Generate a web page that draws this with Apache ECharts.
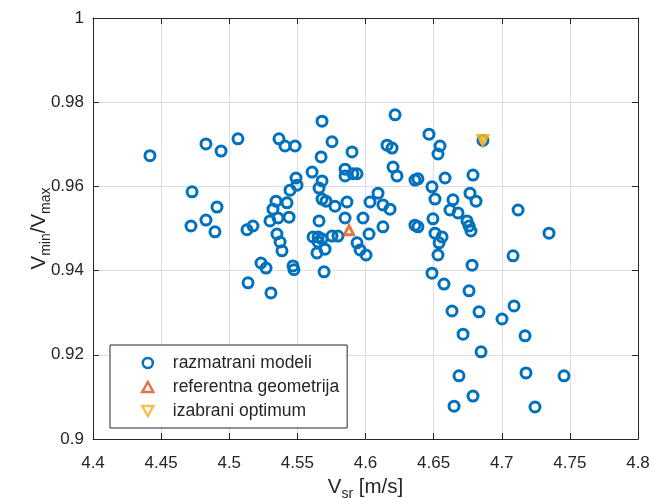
<!DOCTYPE html>
<html>
<head>
<meta charset="utf-8">
<script src="https://cdn.jsdelivr.net/npm/echarts@6/dist/echarts.min.js"></script>
<style>
html,body{margin:0;padding:0;background:#fff;}
#chart{width:653px;height:498px;}
</style>
</head>
<body>
<div id="chart"></div>
<script>
// ---- data ----
const modelVsr = [4.4418,4.4829,4.4940,4.5064,4.5365,4.5409,4.5483,4.5681,4.5754,4.5674,4.5901,4.5608,4.5681,4.5659,4.5490,4.5497,4.5446,4.5850,4.5850,4.5908,4.5938,4.5681,4.5710,4.5776,4.5864,4.4727,4.4910,4.5343,4.5321,4.5424,4.5439,4.5358,4.5299,4.4719,4.4829,4.4895,4.5130,4.5174,4.5350,4.5373,4.5387,4.5233,4.5270,4.5138,4.5306,4.5468,4.5475,4.5659,4.5850,4.5615,4.5652,4.5681,4.5652,4.5644,4.5703,4.5754,4.5798,4.5696,4.5938,4.5960,4.6004,4.5982,4.6033,4.6128,4.6026,4.6128,4.6092,4.6217,4.6158,4.6195,4.6466,4.6547,4.6532,4.6202,4.6231,4.6363,4.6385,4.6584,4.6789,4.6488,4.6510,4.6767,4.6811,4.6642,4.6620,4.6679,4.6180,4.6363,4.6385,4.6495,4.6745,4.6760,4.6774,4.7120,4.7347,4.6510,4.6562,4.6540,4.6532,4.7083,4.6782,4.6488,4.6576,4.6760,4.6635,4.6833,4.7002,4.7090,4.6716,4.7171,4.6848,4.6686,4.7178,4.7457,4.6789,4.6650,4.7244,4.6862];
const modelRatio = [0.9673,0.9701,0.9684,0.9713,0.9713,0.9696,0.9696,0.9755,0.9706,0.9670,0.9682,0.9634,0.9613,0.9596,0.9620,0.9603,0.9591,0.9641,0.9625,0.9630,0.9630,0.9570,0.9565,0.9553,0.9563,0.9587,0.9551,0.9565,0.9546,0.9561,0.9527,0.9525,0.9518,0.9506,0.9520,0.9492,0.9497,0.9506,0.9487,0.9468,0.9447,0.9418,0.9406,0.9371,0.9347,0.9411,0.9402,0.9518,0.9525,0.9480,0.9480,0.9475,0.9468,0.9442,0.9451,0.9482,0.9482,0.9397,0.9466,0.9449,0.9437,0.9525,0.9563,0.9556,0.9487,0.9504,0.9584,0.9770,0.9698,0.9691,0.9724,0.9696,0.9677,0.9646,0.9625,0.9615,0.9618,0.9620,0.9627,0.9599,0.9570,0.9584,0.9565,0.9568,0.9544,0.9537,0.9546,0.9508,0.9504,0.9523,0.9518,0.9506,0.9494,0.9544,0.9489,0.9489,0.9480,0.9466,0.9437,0.9435,0.9413,0.9394,0.9368,0.9352,0.9304,0.9302,0.9285,0.9316,0.9249,0.9245,0.9207,0.9150,0.9157,0.9150,0.9102,0.9078,0.9076,0.9709];
const refVsr = [4.5879];
const refRatio = [0.9496];
const optVsr = [4.6862];
const optRatio = [0.9709];
const seriesNames = ['razmatrani modeli','referentna geometrija','izabrani optimum'];
const xTicks = {min:4.4, max:4.8, interval:0.05};
const yTicks = {min:0.9, max:1.0, interval:0.02};

// ---- chart ----
const BLUE = '#0072BD', ORANGE = '#D95319', YELLOW = '#EDB120';
const AX = '#262626';
const FONT = 'Liberation Sans, Arial, sans-serif';
const zip = (a,b) => a.map((v,i)=>[v,b[i]]);
const downTri = 'path://M0,0 L10,0 L5,9 Z';
const upTri = 'path://M5,0 L10,9 L0,9 Z';

const chart = echarts.init(document.getElementById('chart'), null, {renderer:'canvas'});
const baseAxis = {
  axisLine:{show:true, onZero:false, lineStyle:{color:AX, width:1}},
  axisTick:{show:true, inside:true, length:6, lineStyle:{color:AX}},
};
const nameRich = {
  m:{fontFamily:FONT, fontSize:20.5, color:AX, lineHeight:28, verticalAlign:'middle'},
  s:{fontFamily:FONT, fontSize:14, color:AX, lineHeight:14, verticalAlign:'bottom'}
};
chart.setOption({
  animation:false,
  backgroundColor:'#fff',
  grid:{left:93, top:18, right:15, bottom:59, containLabel:false, outerBoundsMode:'none'},
  xAxis:[
    Object.assign({}, baseAxis, {
      type:'value', min:xTicks.min, max:xTicks.max, interval:xTicks.interval, position:'bottom',
      axisLabel:{color:AX, fontFamily:FONT, fontSize:17, margin:16,
        formatter:v => String(parseFloat(v.toFixed(2)))},
      splitLine:{show:true, lineStyle:{color:'#dedede', width:1}},
      name:'{m|V}{s|sr}{m| [m/s]}', nameLocation:'middle', nameGap:32,
      nameTextStyle:{rich:nameRich}
    }),
    Object.assign({}, baseAxis, {
      type:'value', min:xTicks.min, max:xTicks.max, interval:xTicks.interval, position:'top',
      axisLabel:{show:false}, splitLine:{show:false}
    })
  ],
  yAxis:[
    Object.assign({}, baseAxis, {
      type:'value', min:yTicks.min, max:yTicks.max, interval:yTicks.interval, position:'left',
      axisLabel:{color:AX, fontFamily:FONT, fontSize:17, margin:9,
        formatter:v => String(parseFloat(v.toFixed(2)))},
      splitLine:{show:true, lineStyle:{color:'#dedede', width:1}},
      name:'{m|V}{s|min}{m|/V}{s|max}', nameLocation:'middle', nameGap:40, nameRotate:90,
      nameMoveOverlap:false,
      nameTextStyle:{rich:nameRich}
    }),
    Object.assign({}, baseAxis, {
      type:'value', min:yTicks.min, max:yTicks.max, interval:yTicks.interval, position:'right',
      axisLabel:{show:false}, splitLine:{show:false}
    })
  ],
  legend:{
    orient:'vertical', left:110, top:345,
    padding:[9,8,8,31], itemGap:6,
    itemWidth:40, itemHeight:10,
    backgroundColor:'#fff', borderColor:AX, borderWidth:1,
    textStyle:{fontFamily:FONT, fontSize:17.5, color:AX},
    data:[
      {name:seriesNames[0], icon:'circle', itemStyle:{color:'#fff', borderColor:BLUE, borderWidth:2.5}},
      {name:seriesNames[1], icon:upTri, itemStyle:{color:'#fff', borderColor:ORANGE, borderWidth:2.5}},
      {name:seriesNames[2], icon:downTri, itemStyle:{color:'#fff', borderColor:YELLOW, borderWidth:2.5}}
    ]
  },
  series:[
    {name:seriesNames[0], type:'scatter', data:zip(modelVsr, modelRatio), symbol:'circle', symbolSize:10,
     itemStyle:{color:'rgba(255,255,255,0)', borderColor:BLUE, borderWidth:3, opacity:1},
     emphasis:{disabled:true}},
    {name:seriesNames[1], type:'scatter', data:zip(refVsr, refRatio), symbol:upTri, symbolSize:9,
     itemStyle:{color:'#fff', borderColor:ORANGE, borderWidth:3},
     emphasis:{disabled:true}},
    {name:seriesNames[2], type:'scatter', data:zip(optVsr, optRatio), symbol:downTri, symbolSize:10,
     itemStyle:{color:YELLOW, borderColor:YELLOW, borderWidth:3},
     emphasis:{disabled:true}}
  ]
});
</script>
</body>
</html>
